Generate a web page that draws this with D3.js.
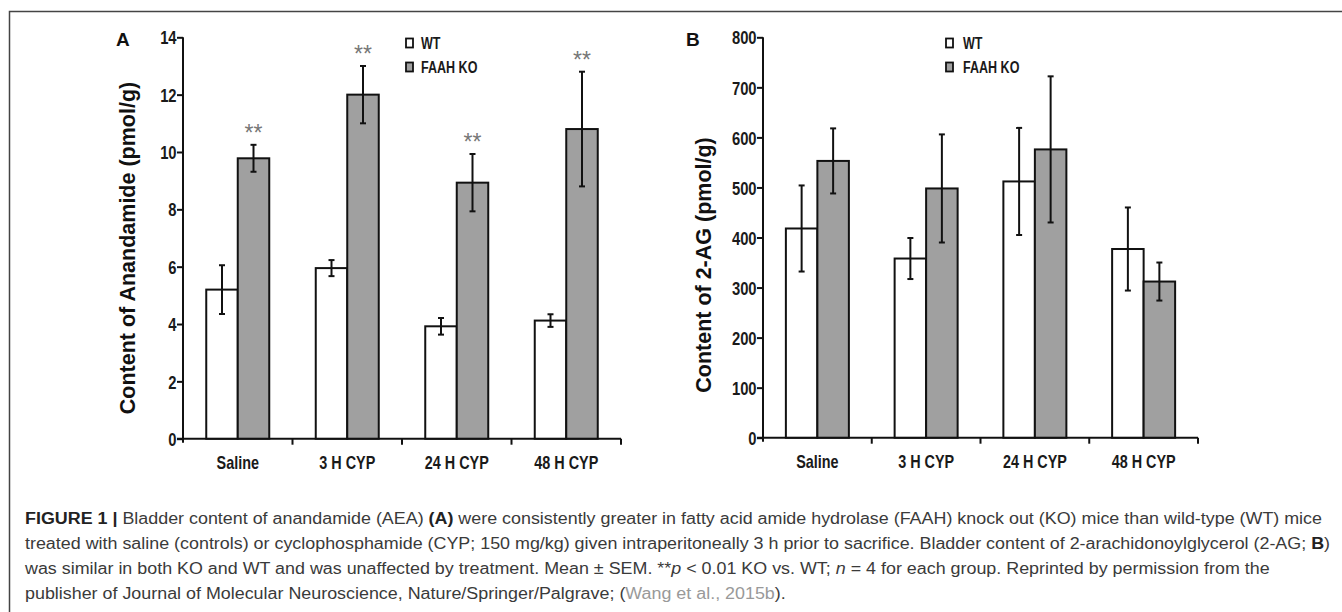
<!DOCTYPE html>
<html>
<head>
<meta charset="utf-8">
<script src="https://cdn.jsdelivr.net/npm/d3@7"></script>
<style>
  body { margin: 0; background: #fff; }
  svg { display: block; }
  .narrow { font-family: "Liberation Sans", Arial, sans-serif; font-weight: bold; }
  .caption { font-family: "Liberation Sans", Arial, sans-serif; fill: #3a3a3a; }
</style>
</head>
<body>
<div id="chart"></div>
<script>
// data
const categories = ["Saline", "3 H CYP", "24 H CYP", "48 H CYP"];
const groups = ["WT", "FAAH KO"];

// panel A: anandamide (pmol/g)
const aeaWT = [5.2, 5.95, 3.92, 4.12];
const aeaWTsem = [0.85, 0.28, 0.29, 0.22];
const aeaKO = [9.78, 12.0, 8.93, 10.8];
const aeaKOsem = [0.47, 1.0, 1.0, 2.0];
const aeaSig = ["**", "**", "**", "**"];
const aeaTicks = [0, 2, 4, 6, 8, 10, 12, 14];

// panel B: 2-AG (pmol/g)
const agWT = [418, 358, 512, 377];
const agWTsem = [86, 41, 107, 83];
const agKO = [553, 498, 576, 312];
const agKOsem = [65, 108, 146, 38];
const agSig = ["", "", "", ""];
const agTicks = [0, 100, 200, 300, 400, 500, 600, 700, 800];

const captionLines = [
  [["FIGURE 1 | ", "b"], ["Bladder content of anandamide (AEA) "], ["(A)", "b"], [" were consistently greater in fatty acid amide hydrolase (FAAH) knock out (KO) mice than wild-type (WT) mice"]],
  [["treated with saline (controls) or cyclophosphamide (CYP; 150 mg/kg) given intraperitoneally 3 h prior to sacrifice. Bladder content of 2-arachidonoylglycerol (2-AG; "], ["B", "b"], [")"]],
  [["was similar in both KO and WT and was unaffected by treatment. Mean \u00b1 SEM. **"], ["p", "i"], [" < 0.01 KO vs. WT; "], ["n", "i"], [" = 4 for each group. Reprinted by permission from the"]],
  [["publisher of Journal of Molecular Neuroscience, Nature/Springer/Palgrave; ("], ["Wang et al., 2015b", "g"], [")."]]
];

const W = 1342, H = 612;
const colors = { wt: "#ffffff", ko: "#a0a0a0", ink: "#111", star: "#777" };
const squeeze = 0.8; // the figure uses a narrow bold face

const svg = d3.select("#chart").append("svg")
  .attr("width", W)
  .attr("height", H);

// outer frame (only top and left edges are visible in the crop)
svg.append("path")
  .attr("d", `M9.5,${H} V11.5 H${W}`)
  .attr("fill", "none")
  .attr("stroke", "#444")
  .attr("stroke-width", 1.5);

function drawPanel(cfg) {
  let g = svg.append("g");

  let x = d3.scaleBand().domain(categories).range([cfg.left, cfg.right]).padding(0);
  let y = d3.scaleLinear().domain([0, cfg.max]).range([cfg.bottom, cfg.top]);
  let barW = 31.5;

  // y axis
  let yAxis = g.append("g")
    .attr("transform", `translate(${cfg.left},0)`)
    .call(d3.axisLeft(y).tickValues(cfg.ticks).tickSize(6).tickSizeOuter(0).tickPadding(2));
  yAxis.select(".domain").attr("stroke", colors.ink).attr("stroke-width", 2)
    .attr("d", `M0,${cfg.bottom + 4}V${cfg.top}`);
  yAxis.selectAll(".tick line").attr("stroke", colors.ink).attr("stroke-width", 2);
  yAxis.selectAll(".tick text")
    .attr("class", "narrow")
    .attr("font-size", 18.5)
    .attr("fill", "#1a1a1a")
    .attr("dy", "0.36em")
    .attr("transform", `scale(${squeeze},1)`);

  // x axis line with ticks at the category boundaries
  let xAxis = g.append("g")
    .attr("transform", `translate(0,${cfg.bottom})`)
    .call(d3.axisBottom(x).tickSize(0).tickPadding(18));
  xAxis.select(".domain").attr("stroke", colors.ink).attr("stroke-width", 2)
    .attr("d", `M${cfg.left - 6},0H${cfg.right}`);
  xAxis.selectAll(".tick text")
    .attr("class", "narrow")
    .attr("font-size", 18)
    .attr("fill", "#1a1a1a")
    .attr("transform", `scale(${squeeze},1)`);

  let bounds = categories.map(c => x(c) + x.bandwidth());
  g.selectAll(".xtick").data(bounds).enter().append("line")
    .attr("class", "xtick")
    .attr("x1", d => d).attr("x2", d => d)
    .attr("y1", cfg.bottom).attr("y2", cfg.bottom + 6)
    .attr("stroke", colors.ink).attr("stroke-width", 2);

  // bars
  let rows = [];
  categories.forEach((c, i) => {
    rows.push({ cat: c, grp: 0, v: cfg.wt[i], e: cfg.wtSem[i] });
    rows.push({ cat: c, grp: 1, v: cfg.ko[i], e: cfg.koSem[i], sig: cfg.sig[i] });
  });
  let cx = d => x(d.cat) + x.bandwidth() / 2 + (d.grp === 0 ? -barW : 0);

  g.selectAll(".bar").data(rows).enter().append("rect")
    .attr("class", "bar")
    .attr("x", cx)
    .attr("y", d => y(d.v))
    .attr("width", barW)
    .attr("height", d => cfg.bottom - y(d.v))
    .attr("fill", d => d.grp === 0 ? colors.wt : colors.ko)
    .attr("stroke", colors.ink)
    .attr("stroke-width", 2);

  // error bars
  let eb = g.selectAll(".err").data(rows).enter().append("g")
    .attr("class", "err")
    .attr("stroke", colors.ink)
    .attr("stroke-width", 2);
  eb.append("line")
    .attr("x1", d => cx(d) + barW / 2).attr("x2", d => cx(d) + barW / 2)
    .attr("y1", d => y(d.v + d.e)).attr("y2", d => y(d.v - d.e));
  eb.append("line")
    .attr("x1", d => cx(d) + barW / 2 - 3).attr("x2", d => cx(d) + barW / 2 + 3)
    .attr("y1", d => y(d.v + d.e)).attr("y2", d => y(d.v + d.e));
  eb.append("line")
    .attr("x1", d => cx(d) + barW / 2 - 3).attr("x2", d => cx(d) + barW / 2 + 3)
    .attr("y1", d => y(d.v - d.e)).attr("y2", d => y(d.v - d.e));

  // significance stars
  g.selectAll(".sig").data(rows.filter(d => d.sig)).enter().append("text")
    .attr("class", "sig")
    .attr("x", d => cx(d) + barW / 2)
    .attr("y", d => y(d.v + d.e) - 4)
    .attr("text-anchor", "middle")
    .attr("font-family", "Liberation Sans, Arial, sans-serif")
    .attr("font-size", 23)
    .attr("fill", colors.star)
    .text(d => d.sig);

  // panel letter
  g.append("text")
    .attr("x", cfg.letterX).attr("y", 46)
    .attr("font-family", "Liberation Sans, Arial, sans-serif")
    .attr("font-weight", "bold")
    .attr("font-size", 19)
    .attr("fill", "#111")
    .text(cfg.letter);

  // y title
  g.append("text")
    .attr("transform", `translate(${cfg.titleX},${cfg.titleY}) rotate(-90)`)
    .attr("text-anchor", "middle")
    .attr("font-family", "Liberation Sans, Arial, sans-serif")
    .attr("font-weight", "bold")
    .attr("font-size", 21.5)
    .attr("fill", "#111")
    .text(cfg.title);

  // legend
  let lg = g.append("g").attr("transform", `translate(${cfg.legendX},38)`);
  let items = lg.selectAll("g").data(groups).enter().append("g")
    .attr("transform", (d, i) => `translate(0,${i * 24})`);
  items.append("rect")
    .attr("x", 0).attr("y", 0.5)
    .attr("width", 7).attr("height", 9)
    .attr("fill", (d, i) => i === 0 ? colors.wt : colors.ko)
    .attr("stroke", colors.ink)
    .attr("stroke-width", 1.8);
  items.append("text")
    .attr("class", "narrow")
    .attr("transform", `translate(${cfg.legendGap},11) scale(0.76,1)`)
    .attr("font-size", 16.5)
    .attr("fill", "#1a1a1a")
    .text(d => d);
}

drawPanel({
  left: 183, right: 621, top: 37.3, bottom: 438.7,
  max: 14, ticks: aeaTicks,
  wt: aeaWT, wtSem: aeaWTsem, ko: aeaKO, koSem: aeaKOsem, sig: aeaSig,
  letter: "A", letterX: 116,
  title: "Content of Anandamide (pmol/g)", titleX: 135, titleY: 248,
  legendX: 406, legendGap: 15
});

drawPanel({
  left: 763, right: 1198, top: 37.3, bottom: 437.7,
  max: 800, ticks: agTicks,
  wt: agWT, wtSem: agWTsem, ko: agKO, koSem: agKOsem, sig: agSig,
  letter: "B", letterX: 686,
  title: "Content of 2-AG (pmol/g)", titleX: 711, titleY: 265,
  legendX: 946, legendGap: 17
});

// caption
let cap = svg.append("g").attr("class", "caption");
let baselines = [524, 549, 574, 599];
let capX = 25;
let lines = captionLines.map((parts, li) => {
  let t = cap.append("text")
    .attr("x", capX)
    .attr("y", baselines[li])
    .attr("font-size", 16);
  parts.forEach(p => {
    let s = t.append("tspan").text(p[0]);
    if (p[1] === "b") s.attr("font-weight", "bold").attr("fill", "#222");
    if (p[1] === "i") s.attr("font-style", "italic");
    if (p[1] === "g") s.attr("fill", "#999");
  });
  return t;
});

// the figure's face is narrower: squeeze all lines by the factor that makes line 1 end at x=1322
let k = (1322 - capX) / lines[0].node().getComputedTextLength();
lines.forEach(t => {
  let len = t.node().getComputedTextLength();
  t.attr("textLength", len * k).attr("lengthAdjust", "spacingAndGlyphs");
});
</script>
</body>
</html>
